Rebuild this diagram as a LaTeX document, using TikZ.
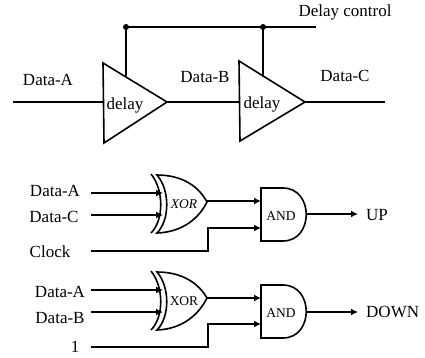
\documentclass[tikz,border=0pt]{standalone}
\usepackage{fontspec}
\setmainfont{Liberation Serif}
\usetikzlibrary{arrows.meta}
\tikzset{
  wire/.style={line width=1.4pt,black},
  thick wire/.style={line width=2pt,black},
  gate/.style={line width=1.6pt,black},
  arrowed/.style={-{Latex[length=7pt,width=7pt]}},
  lbl/.style={font=\fontsize{17}{19}\selectfont,inner sep=0pt,text=black},
  glbl/.style={font=\fontsize{13.5}{15}\selectfont,inner sep=0pt,text=black},
  dot/.style={circle,fill=black,inner sep=0pt,minimum size=6pt},
}
\begin{document}
\begin{tikzpicture}[x=1pt,y=-1pt]
\useasboundingbox (0,0) rectangle (425,357);
% delay line
\coordinate (inA) at (13,102);
\coordinate (t1in) at (103,102);
\coordinate (t1out) at (167,102);
\coordinate (t2in) at (239,102);
\coordinate (t2out) at (305,102);
\coordinate (outC) at (385,102);
\coordinate (ctlEnd) at (316,27);
\coordinate (t1top) at (126,76);
\coordinate (t2top) at (263,77);
\node[dot] (d1) at (126,27) {};
\node[dot] (d2) at (263,27) {};
\draw[wire] (inA) -- (t1in);
\draw[wire] (t1out) -- (t2in);
\draw[wire] (t2out) -- (outC);
\draw[thick wire] (d1.center) -- (ctlEnd);
\draw[thick wire] (d1.center) -- (t1top);
\draw[thick wire] (d2.center) -- (t2top);
\draw[gate,line join=miter] (103,63) -- (167,102) -- (104,143) -- cycle;
\draw[gate,line join=miter] (239,61) -- (305,102) -- (240,141) -- cycle;
\node[lbl] (tA) at (48,80) {Data-A};
\node[lbl] (tB) at (205,77) {Data-B};
\node[lbl] (tC) at (345,76) {Data-C};
\node[lbl] (tD) at (345,12) {Delay control};
\node[lbl] (de1) at (125,105) {delay};
\node[lbl] (de2) at (262,104) {delay};
% gate 1
\draw[gate] (157,175) .. controls (183,175) and (199,187) .. (207,202) .. controls (199,218) and (183,232) .. (157,233) .. controls (170,220) and (170,190) .. cycle;
\draw[gate] (151,174) .. controls (164,190) and (164,220) .. (151,233);
\draw[gate] (261,188) -- (283,188) .. controls (314,188) and (314,241) .. (283,241) -- (261,241) -- cycle;
% gate 2
\draw[gate] (157,272) .. controls (183,272) and (199,284) .. (207,298) .. controls (199,314) and (183,329) .. (157,330) .. controls (170,317) and (170,287) .. cycle;
\draw[gate] (151,271) .. controls (164,287) and (164,317) .. (151,330);
\draw[gate] (261,285) -- (283,285) .. controls (314,285) and (314,338) .. (283,338) -- (261,338) -- cycle;
% inputs, upper
\coordinate (a1) at (91,193); \coordinate (a1e) at (163,193);
\coordinate (c1) at (91,215); \coordinate (c1e) at (163,215);
\coordinate (k1) at (91,251); \coordinate (k1e) at (261,228);
\coordinate (x1) at (207,201); \coordinate (x1e) at (261,201);
\coordinate (o1) at (306,214); \coordinate (o1e) at (358,214);
\draw[thick wire,arrowed] (a1) -- (a1e);
\draw[thick wire,arrowed] (c1) -- (c1e);
\draw[wire,arrowed] (x1) -- (x1e);
\draw[wire,arrowed] (k1) -| (208,228) -- (k1e);
\draw[wire,arrowed] (o1) -- (o1e);
% inputs, lower
\coordinate (a2) at (91,290); \coordinate (a2e) at (163,290);
\coordinate (b2) at (91,312); \coordinate (b2e) at (163,312);
\coordinate (l2) at (91,347); \coordinate (l2e) at (261,324);
\coordinate (x2) at (207,298); \coordinate (x2e) at (261,298);
\coordinate (o2) at (306,312); \coordinate (o2e) at (358,312);
\draw[thick wire,arrowed] (a2) -- (a2e);
\draw[thick wire,arrowed] (b2) -- (b2e);
\draw[wire,arrowed] (x2) -- (x2e);
\draw[wire,arrowed] (l2) -| (208,324) -- (l2e);
\draw[wire,arrowed] (o2) -- (o2e);
% labels
\node[lbl] (l1) at (55,191) {Data-A};
\node[lbl] (l2t) at (54,217) {Data-C};
\node[lbl] (l3) at (50,252) {Clock};
\node[lbl] (l4) at (60,292) {Data-A};
\node[lbl] (l5) at (60,318) {Data-B};
\node[lbl] (l6) at (75,347) {1};
\node[glbl] (x1t) at (184,204) {\itshape XOR};
\node[glbl] (x2t) at (184,301) {XOR};
\node[glbl] (an1) at (281,216) {AND};
\node[glbl] (an2) at (281,313) {AND};
\node[lbl,anchor=west] (up) at (366,215) {UP};
\node[lbl,anchor=west] (down) at (366,312) {DOWN};
\end{tikzpicture}
\end{document}
